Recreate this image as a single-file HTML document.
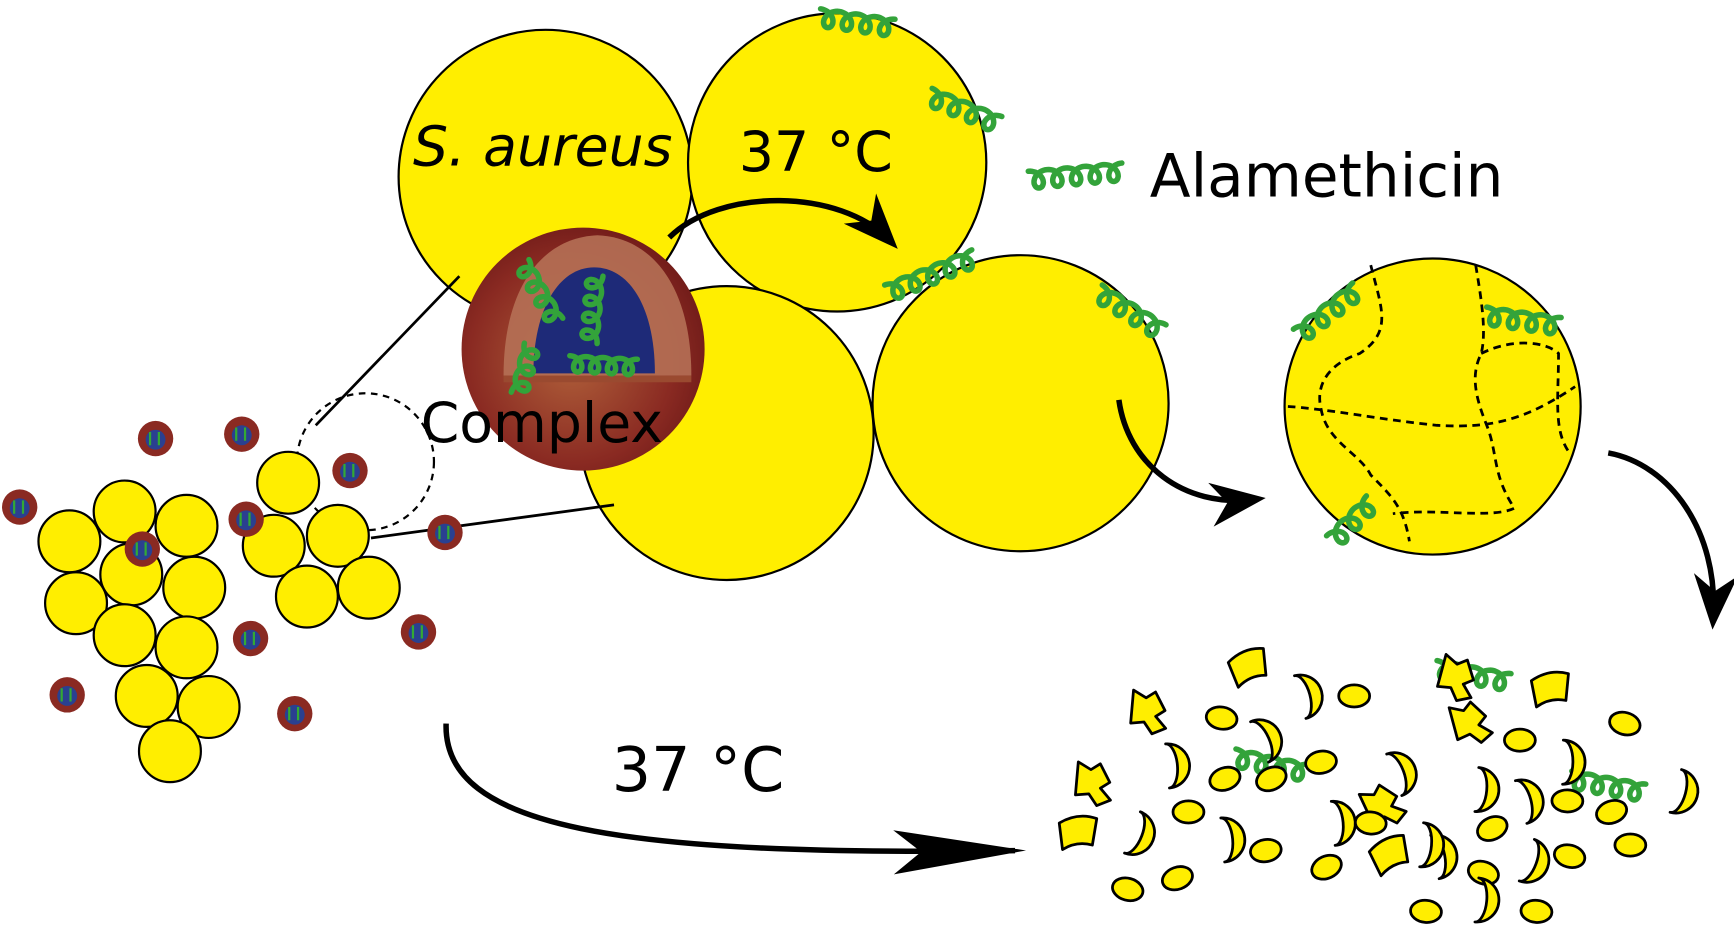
<!DOCTYPE html>
<html><head><meta charset="utf-8"><style>
html,body{margin:0;padding:0;background:#fff;}
svg{display:block;}
text{font-family:"DejaVu Sans","Liberation Sans",sans-serif;}
</style></head><body>
<svg id="s" width="1734" height="939" viewBox="0 0 1568 850" xmlns="http://www.w3.org/2000/svg">
<defs>
<radialGradient id="rg" cx="0.45" cy="0.55" r="0.6">
<stop offset="0" stop-color="#b0603a"/><stop offset="0.7" stop-color="#8a2a22"/><stop offset="1" stop-color="#6e1a18"/>
</radialGradient>
<marker id="ah" markerWidth="10" markerHeight="8" refX="8" refY="4" orient="auto" markerUnits="strokeWidth">
<path d="M0,0 L10,4 L0,8 L3,4 Z" fill="#000"/></marker>
<marker id="ah2" markerWidth="24" markerHeight="8" refX="22" refY="4" orient="auto" markerUnits="strokeWidth">
<path d="M0,0 L24,4 L0,8 L5,4 Z" fill="#000"/></marker>
</defs>
<g stroke="#000" stroke-width="2" fill="#ffee00">
<circle cx="493" cy="160" r="133"/>
<circle cx="757" cy="147" r="135"/>
<circle cx="657" cy="392" r="133"/>
<circle cx="923" cy="365" r="134"/>
<circle cx="1296" cy="368" r="134"/>
</g>
<g fill="none" stroke="#000" stroke-width="2.5" stroke-dasharray="7,5">
<path d="M1240,240 C1250,280 1260,300 1230,320 C1200,330 1190,350 1195,370 C1200,400 1230,410 1240,430 C1260,450 1270,460 1275,490"/>
<path d="M1165,368 C1200,370 1250,380 1300,385 C1350,388 1380,380 1425,350"/>
<path d="M1335,240 C1340,270 1345,300 1340,320 C1330,340 1335,360 1345,385 C1355,410 1350,430 1370,460 C1350,470 1300,460 1260,465"/>
<path d="M1340,320 C1370,305 1400,310 1410,320 C1410,360 1405,390 1420,410"/>
</g>
<line x1="415" y1="250" x2="285" y2="385" stroke="#000" stroke-width="2.5"/>
<line x1="555" y1="457" x2="335" y2="487" stroke="#000" stroke-width="2.5"/>
<circle cx="330" cy="418" r="62" fill="none" stroke="#000" stroke-width="2" stroke-dasharray="6,5"/>
<g stroke="#000" stroke-width="2" fill="#ffee00" id="cl"></g>
<g id="rs"></g>
<circle cx="527" cy="316" r="110" fill="url(#rg)"/>
<path d="M455,340 C455,260 490,215 540,213 C590,215 625,260 625,340 Z" fill="#b57055" opacity="0.9"/>
<path d="M482,338 C482,280 505,242 537,242 C570,242 592,280 592,338 Z" fill="#1e2a78"/>
<path d="M455,340 L625,340 L625,346 L455,346 Z" fill="#9a4a30"/>
<g id="coils" fill="none" stroke="#33a33a" stroke-width="5" stroke-linecap="round"></g>
<g id="frag" stroke="#000" stroke-width="2.5" fill="#ffee00" stroke-linejoin="round"></g>
<text x="373" y="150" font-size="50" font-style="italic">S. aureus</text>
<text x="668" y="155" font-size="50">37 °C</text>
<text x="1040" y="178" font-size="54">Alamethicin</text>
<text x="380" y="400" font-size="50">Complex</text>
<text x="553" y="716" font-size="56">37 °C</text>
<g fill="none" stroke="#000" stroke-width="5">
<path d="M605,215 C650,170 760,170 805,218" marker-end="url(#ah)"/>
<path d="M1012,362 C1020,420 1070,460 1135,452" marker-end="url(#ah)"/>
<path d="M1455,410 C1510,420 1555,480 1550,560" marker-end="url(#ah)"/>
<path d="M403,655 C400,750 560,775 918,770" marker-end="url(#ah2)"/>
</g>
</svg>
<script>
var NS="http://www.w3.org/2000/svg";
function el(p,t,a){var e=document.createElementNS(NS,t);for(var k in a)e.setAttribute(k,a[k]);document.getElementById(p).appendChild(e);return e;}
[[62,490],[112,463],[168,476],[118,520],[175,532],[68,546],[112,575],[168,586],[132,630],[188,640],[153,680],[260,437],[247,494],[305,485],[277,540],[333,532]].forEach(function(p){el("cl","circle",{cx:p[0],cy:p[1],r:28});});
[[140,397],[218,393],[316,426],[17,459],[222,470],[128,497],[402,482],[226,578],[378,572],[60,629],[266,646]].forEach(function(p){
el("rs","circle",{cx:p[0],cy:p[1],r:16,fill:"#8a2a22"});
el("rs","circle",{cx:p[0],cy:p[1]+1,r:9,fill:"#2a4090"});
el("rs","path",{d:"M"+(p[0]-5)+","+(p[1]-6)+" l0,12 M"+(p[0]+3)+","+(p[1]-6)+" l0,12",stroke:"#3a3",fill:"none","stroke-width":2});});
function coil(x,y,ang,n,sc){sc=sc||1;var d="",r=8*sc,st=17*sc;for(var i=0;i<=n*40;i++){var t=i/40*2*Math.PI;var u=i/40*st+r*Math.sin(t),v=-r*Math.cos(t)+r;d+=(i?"L":"M")+u.toFixed(1)+","+v.toFixed(1);}
el("coils","path",{d:d,transform:"translate("+x+","+y+") rotate("+ang+")"});}
coil(742,8,8,4);coil(843,80,22,4);coil(930,155,-5,5);coil(800,258,-22,5);coil(997,258,32,4);
coil(1170,298,-38,4);coil(1345,278,8,4);coil(1200,485,-45,3);
coil(1300,598,10,4);coil(1118,678,12,4);coil(1422,698,10,4);
coil(478,235,60,4,0.9);coil(545,250,95,4,0.9);coil(515,322,3,4,0.9);coil(462,355,-75,3,0.9);
var F=[[1040,640,0],[1130,605,1],[1180,630,2],[1225,630,3],[1105,650,3],[1143,670,2],[1060,693,2],[990,705,0],[1108,705,3],[1150,705,3],[1195,690,3],[975,755,1],[1028,755,2],[1075,735,3],[1110,760,2],[1145,770,3],[1210,745,2],[1020,805,3],[1065,795,3],[1320,610,0],[1403,625,1],[1470,655,3],[1330,650,0],[1375,670,3],[1265,700,2],[1250,725,0],[1340,715,2],[1380,725,2],[1418,690,2],[1418,725,3],[1458,735,3],[1520,717,2],[1350,750,3],[1385,780,2],[1420,775,3],[1475,765,3],[1258,775,1],[1302,775,2],[1342,790,3],[1290,825,3],[1340,815,2],[1390,825,3],[1200,785,3],[1290,765,2],[1240,745,3]];
F.forEach(function(f){var x=f[0],y=f[1],k=f[2],d;
if(k==0)d="M"+(x-16)+","+(y-14)+" l12,6 l8,-6 l10,16 l-8,6 l10,10 l-12,6 l-8,-10 l-12,2 z";
else if(k==1)d="M"+(x-17)+","+(y-10)+" q17,-10 34,-4 l-4,24 q-14,-4 -27,4 z";
else if(k==2)d="M"+(x-4)+","+(y-20)+" a20,20 0 0 1 0,40 a9,20 0 0 0 0,-40 z";
else d="M"+(x-14)+","+y+" a14,10 0 1 0 28,0 a14,10 0 1 0 -28,0 z";
el("frag","path",{d:d,transform:"rotate("+((x*7)%50-25)+" "+x+" "+y+")"});});
</script>
</body></html>
